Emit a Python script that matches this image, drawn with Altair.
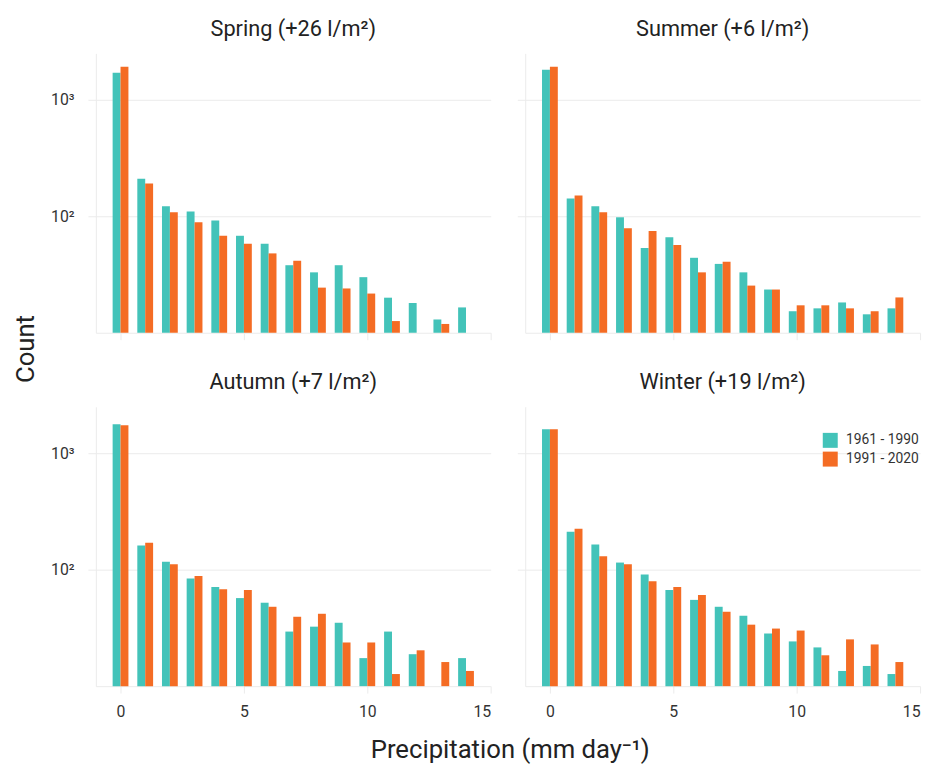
import altair as alt
import pandas as pd

FONT = "Roboto"

bins = list(range(15))
periods = ["1961 - 1990", "1991 - 2020"]
colors = ["#43C3B9", "#F46C24"]

seasons = ["Spring", "Summer", "Autumn", "Winter"]
season_titles = ["Spring (+26 l/m²)", "Summer (+6 l/m²)", "Autumn (+7 l/m²)", "Winter (+19 l/m²)"]

spring_a = [1706, 210, 122, 110, 92, 68, 58, 38, 33, 38, 30, 20, 18, 13, 16.5]
spring_b = [1918, 191, 108, 89, 68, 58, 48, 41.5, 24.4, 24, 21.7, 12.6, None, 11.9, None]
summer_a = [1808, 142, 122, 98, 53.5, 66, 44, 39, 33, 23.5, 15.3, 16.2, 18.2, 14.4, 16.2]
summer_b = [1918, 151, 108, 79, 74.6, 56.7, 33, 40.7, 25.4, 23.5, 17.2, 17.2, 16.2, 15.3, 20.1]
autumn_a = [1772, 161, 117, 84, 71, 57, 52, 29.4, 32.4, 35, 17.4, 29.4, 18.8, None, 17.4]
autumn_b = [1738, 170, 111, 88, 68, 67, 48, 39.4, 41.8, 23.7, 23.7, 12.7, 20.3, 16.1, 13.5]
winter_a = [1607, 211, 164, 115, 91, 67, 55, 48, 40.2, 28.3, 24.2, 21.5, 13.5, 14.9, 12.7]
winter_b = [1607, 224, 130, 111, 79.6, 70.8, 60.5, 43.5, 33.7, 31.2, 30, 18.4, 25.2, 22.8, 16.1]

series = {
    "Spring": (spring_a, spring_b),
    "Summer": (summer_a, summer_b),
    "Autumn": (autumn_a, autumn_b),
    "Winter": (winter_a, winter_b),
}

rows = []
for s, (a, b) in series.items():
    for per, vals in zip(periods, (a, b)):
        for bn, v in zip(bins, vals):
            if v is not None:
                rows.append({"season": s, "bin": bn, "period": per, "count": v})
df = pd.DataFrame(rows)

GRID = "#ebebeb"


def panel(season, title, show_xlab, show_ylab, show_legend):
    xaxis = alt.Axis(
        values=[0, 5, 10, 15], grid=False, labels=show_xlab, title=None,
        tickColor=GRID, domainColor=GRID, tickSize=7, labelFontSize=16,
        labelColor="#333", labelFont=FONT, labelPadding=11,
    )
    yaxis = alt.Axis(
        values=[100, 1000], grid=True, gridColor=GRID, labels=show_ylab, title=None,
        tickColor=GRID, domainColor=GRID, tickSize=8, labelFontSize=16,
        labelColor="#333", labelFont=FONT, labelPadding=14,
        labelExpr="datum.value == 1000 ? '10³' : '10²'",
    )
    if show_legend:
        legend = alt.Legend(
            title=None, orient="none", legendX=301, legendY=26,
            symbolType="square", symbolSize=230, labelFontSize=14,
            labelFont=FONT, labelColor="#333", symbolStrokeWidth=0,
            rowPadding=3, labelOffset=8,
        )
    else:
        legend = None
    return (
        alt.Chart(df)
        .transform_filter(alt.datum.season == season)
        .transform_calculate(
            x0="datum.period == '1961 - 1990' ? datum.bin - 0.32 : datum.bin",
            x1="datum.period == '1961 - 1990' ? datum.bin : datum.bin + 0.32",
            base="10",
        )
        .mark_bar()
        .encode(
            x=alt.X("x0:Q", scale=alt.Scale(domain=[-1, 15], nice=False, zero=False), axis=xaxis),
            x2="x1:Q",
            y=alt.Y("count:Q", scale=alt.Scale(type="log", domain=[10, 2500], nice=False, clamp=True), axis=yaxis),
            y2="base:Q",
            color=alt.Color("period:N", scale=alt.Scale(domain=periods, range=colors), legend=legend),
        )
        .properties(
            width=400, height=283,
            view=alt.ViewBackground(stroke="transparent", strokeWidth=0),
            title=alt.TitleParams(title, fontSize=22, font=FONT, color="#222", fontWeight="normal", offset=13),
        )
    )


top = alt.hconcat(
    panel("Spring", season_titles[0], False, True, False),
    panel("Summer", season_titles[1], False, False, False),
    spacing=25,
).resolve_scale(color="independent").resolve_legend(color="independent")
bottom = alt.hconcat(
    panel("Autumn", season_titles[2], True, True, False),
    panel("Winter", season_titles[3], True, False, True),
    spacing=25,
).resolve_scale(color="independent").resolve_legend(color="independent")

inner = alt.vconcat(top, bottom, spacing=31).properties(
    title=alt.TitleParams(
        "Precipitation (mm day⁻¹)", orient="bottom", fontSize=26, font=FONT,
        color="#222", fontWeight="normal", offset=18, anchor="middle", dx=25,
    )
).resolve_scale(color="independent").resolve_legend(color="independent")

chart = (
    alt.hconcat(inner)
    .properties(
        title=alt.TitleParams(
            "Count", orient="left", fontSize=26, font=FONT, color="#222",
            fontWeight="normal", offset=12, anchor="middle", dx=42,
        )
    )
    .resolve_scale(color="independent")
    .resolve_legend(color="independent")
    .configure_view(stroke="transparent", strokeWidth=0)
    .configure(background="white", style={"cell": {"stroke": "transparent", "strokeWidth": 0}})
)

chart.save("out.html", embed_options={"renderer": "svg", "actions": False})
